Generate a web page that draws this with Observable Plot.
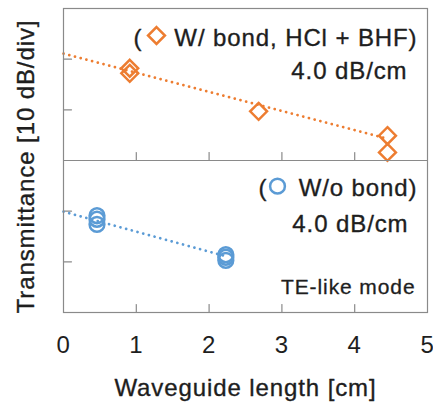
<!DOCTYPE html>
<html>
<head>
<meta charset="utf-8">
<script src="https://cdn.jsdelivr.net/npm/d3@7"></script>
<script src="https://cdn.jsdelivr.net/npm/@observablehq/plot@0.6"></script>
<style>
  html, body { margin: 0; padding: 0; background: #fff; }
  svg text { letter-spacing: 0.9px; }
</style>
</head>
<body>
<div id="chart"></div>
<script>
// ---- data ----
const xTicks = [0, 1, 2, 3, 4, 5];
const xInnerTicks = [1, 2, 3, 4];
const yTicks = [10, 20];               // dB within each panel (10 dB/div)

// Top panel: W/ bond, HCl + BHF
const bondX = [0.91, 0.91, 2.68, 4.45, 4.45];
const bondY = [18.2, 17.2, 9.7, 4.9, 1.6];
const bondFitX = [0, 4.45];
const bondFitY = [21.1, 4.3];

// Bottom panel: W/o bond
const noBondX = [0.46, 0.46, 0.46, 2.23, 2.23, 2.23];
const noBondY = [19.1, 18.4, 17.4, 11.4, 10.9, 10.3];
const noBondFitX = [0, 2.23];
const noBondFitY = [19.9, 11.1];

const legendTop = ["W/ bond, HCl + BHF)", "4.0 dB/cm"];
const legendBottom = ["W/o bond)", "4.0 dB/cm", "TE-like mode"];

// ---- styling ----
const ORANGE = "#ED7D31";
const BLUE = "#5B9BD5";
const GRAY = "#8a8a8a";
const INK = "#1e1e1e";
const FONT = "'Liberation Sans', Arial, sans-serif";
const PANEL = 30; // each panel spans 30 dB; top panel is stacked above

const bond = bondX.map((x, i) => ({x, y: bondY[i] + PANEL}));
const noBond = noBondX.map((x, i) => ({x, y: noBondY[i]}));
const bondFit = bondFitX.map((x, i) => ({x, y: bondFitY[i] + PANEL}));
const noBondFit = noBondFitX.map((x, i) => ({x, y: noBondFitY[i]}));
const yTickAll = [...yTicks, ...yTicks.map(v => v + PANEL)];
const xTickAll = [...xInnerTicks.map(x => ({x, y: 0})), ...xInnerTicks.map(x => ({x, y: PANEL}))];

const tickShape = {draw(ctx, l) { ctx.moveTo(0, 0); ctx.lineTo(0, -l); }};
const txt = {lineAnchor: "bottom", fontSize: 24, fill: INK, stroke: INK, strokeWidth: 0.35};

const chart = Plot.plot({
  width: 433,
  height: 403,
  marginLeft: 63,
  marginRight: 6,
  marginTop: 8,
  marginBottom: 91,
  style: {fontFamily: FONT, background: "#fff"},
  x: {domain: [0, 5], axis: null},
  y: {domain: [0, 60], axis: null},
  marks: [
    // inward ticks
    Plot.vector(xTickAll, {x: "x", y: "y", length: 8, rotate: 0, anchor: "start", shape: tickShape, stroke: GRAY, strokeWidth: 1.2}),
    Plot.vector(yTickAll, {x: 0, y: d => d, length: 8, rotate: 90, anchor: "start", shape: tickShape, stroke: GRAY, strokeWidth: 1.2}),
    // fit lines
    Plot.line(bondFit, {x: "x", y: "y", stroke: ORANGE, strokeWidth: 2.7, strokeDasharray: "0.1 5.8", strokeLinecap: "round"}),
    Plot.line(noBondFit, {x: "x", y: "y", stroke: BLUE, strokeWidth: 2.7, strokeDasharray: "0.1 5.8", strokeLinecap: "round"}),
    // markers
    Plot.dot(bond, {x: "x", y: "y", symbol: "diamond2", r: 7.6, stroke: ORANGE, strokeWidth: 2.5, fill: "none"}),
    Plot.dot(noBond, {x: "x", y: "y", symbol: "circle", r: 7.4, stroke: BLUE, strokeWidth: 2.5, fill: "none"}),
    // frame and panel divider
    Plot.ruleY([PANEL], {stroke: GRAY, strokeWidth: 1.2}),
    Plot.frame({stroke: GRAY, strokeWidth: 1.2}),
    // x tick labels
    Plot.axisX(xTicks, {tickSize: 0, tickPadding: 23, fontSize: 24, label: null, fill: INK, stroke: INK, strokeWidth: 0.35, tickFormat: d => String(d)}),
    // axis titles
    Plot.text(["Waveguide length [cm]"], {...txt, frameAnchor: "bottom", dy: 83, textAnchor: "middle"}),
    Plot.text(["Transmittance [10 dB/div]"], {...txt, frameAnchor: "left", rotate: -90, dx: -29.5, dy: 6, textAnchor: "middle"}),
    // top legend
    Plot.text(["("], {...txt, frameAnchor: "top-right", dx: -294, dy: 37, textAnchor: "start"}),
    Plot.dot([0], {frameAnchor: "top-right", dx: -271, dy: 27, symbol: "diamond2", r: 7.6, stroke: ORANGE, strokeWidth: 2.5, fill: "none"}),
    Plot.text([legendTop[0]], {...txt, frameAnchor: "top-right", dx: -10, dy: 37, textAnchor: "end"}),
    Plot.text([legendTop[1]], {...txt, frameAnchor: "top-right", dx: -20, dy: 70, textAnchor: "end"}),
    // bottom legend
    Plot.text(["("], {...txt, frameAnchor: "top-right", dx: -169, dy: 187, textAnchor: "start"}),
    Plot.dot([0], {frameAnchor: "top-right", dx: -150, dy: 177.7, symbol: "circle", r: 7.4, stroke: BLUE, strokeWidth: 2.5, fill: "none"}),
    Plot.text([legendBottom[0]], {...txt, frameAnchor: "top-right", dx: -10, dy: 187, textAnchor: "end"}),
    Plot.text([legendBottom[1]], {...txt, frameAnchor: "top-right", dx: -19, dy: 223.7, textAnchor: "end"}),
    Plot.text([legendBottom[2]], {...txt, frameAnchor: "top-right", dx: -12, dy: 285, textAnchor: "end", fontSize: 21, strokeWidth: 0.3})
  ]
});
document.getElementById("chart").append(chart);
</script>
</body>
</html>
